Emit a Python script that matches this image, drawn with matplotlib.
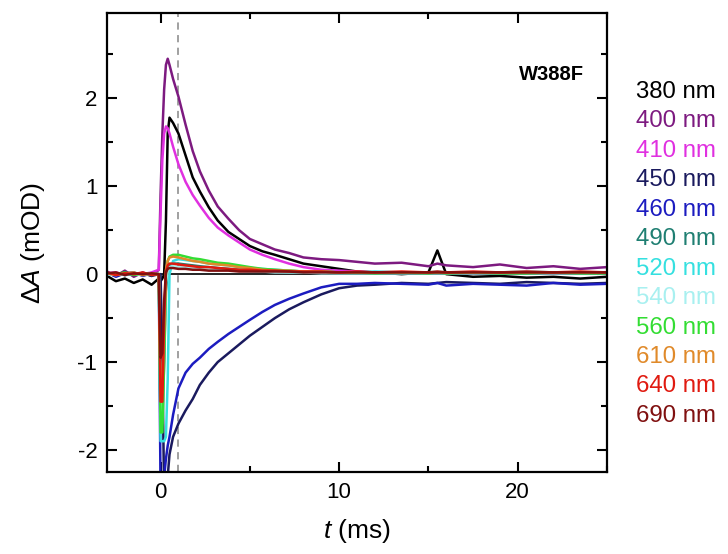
import matplotlib
matplotlib.use('Agg')
import matplotlib.pyplot as plt
from matplotlib.ticker import MultipleLocator

plt.rcParams['font.family'] = ['Liberation Sans', 'DejaVu Sans']
plt.rcParams['mathtext.fontset'] = 'custom'
plt.rcParams['mathtext.rm'] = 'Liberation Sans'
plt.rcParams['mathtext.it'] = 'Liberation Sans:italic'
plt.rcParams['axes.unicode_minus'] = False

# time axis (ms), shared by all traces
t = [-3, -2.5, -2, -1.5, -1, -0.5, -0.1, 0.0, 0.1, 0.2, 0.3, 0.4, 0.5, 0.7, 1.0, 1.4,
     1.8, 2.2, 2.7, 3.2, 3.8, 4.4, 5.0, 5.7, 6.4, 7.2, 8.0, 9.0, 10, 11, 12, 13.5,
     15, 15.5, 16, 17.5, 19, 20.5, 22, 23.5, 25]

wavelengths = ['380 nm', '400 nm', '410 nm', '450 nm', '460 nm', '490 nm',
               '520 nm', '540 nm', '560 nm', '610 nm', '640 nm', '690 nm']
colors = ['#000000', '#7d1a80', '#e030e0', '#1a1a5e', '#1c1cc0', '#1f7f72',
          '#35e0e0', '#a8f0f0', '#33dd33', '#e08a2a', '#e01a10', '#801010']

dA_380 = [-0.02, -0.08, -0.05, -0.10, -0.06, -0.12, -0.05, -0.08, -0.05, 0.00, 0.60, 1.60,
          1.78, 1.72, 1.60, 1.35, 1.10, 0.94, 0.76, 0.61, 0.48, 0.40, 0.32, 0.26, 0.22, 0.17,
          0.12, 0.09, 0.06, 0.03, 0.02, 0.00, 0.02, 0.27, 0.00, -0.03, -0.02, -0.04, -0.03,
          -0.05, -0.03]
dA_400 = [0.03, -0.02, 0.04, -0.03, 0.02, -0.02, 0.05, 0.90, 1.60, 2.10, 2.38, 2.45,
          2.38, 2.22, 2.02, 1.70, 1.40, 1.17, 0.95, 0.77, 0.63, 0.50, 0.40, 0.34, 0.28, 0.24,
          0.19, 0.17, 0.16, 0.14, 0.12, 0.13, 0.09, 0.12, 0.10, 0.08, 0.11, 0.07, 0.09, 0.06,
          0.08]
dA_410 = [0.01, 0.02, -0.01, 0.01, 0.00, 0.02, 0.05, 0.70, 1.30, 1.60, 1.68, 1.66,
          1.60, 1.45, 1.25, 1.05, 0.90, 0.78, 0.64, 0.53, 0.44, 0.36, 0.28, 0.22, 0.17, 0.12,
          0.08, 0.05, 0.04, 0.03, 0.02, 0.02, 0.02, 0.02, 0.02, 0.01, 0.02, 0.02, 0.01, 0.02,
          0.02]
dA_450 = [0.01, -0.02, 0.02, -0.01, 0.01, -0.02, 0.00, 0.00, -1.00, -2.50, -2.50, -2.30,
          -2.05, -1.85, -1.70, -1.55, -1.42, -1.26, -1.12, -1.00, -0.90, -0.80, -0.70, -0.60,
          -0.50, -0.40, -0.32, -0.23, -0.16, -0.13, -0.12, -0.10, -0.11, -0.10, -0.09, -0.10,
          -0.11, -0.09, -0.10, -0.11, -0.10]
dA_460 = [0.02, -0.03, 0.01, 0.02, -0.02, 0.01, 0.00, -2.50, -2.50, -2.30, -2.10, -1.95,
          -1.85, -1.60, -1.30, -1.12, -1.02, -0.95, -0.85, -0.77, -0.68, -0.60, -0.52, -0.43,
          -0.35, -0.28, -0.22, -0.15, -0.11, -0.11, -0.10, -0.11, -0.12, -0.10, -0.13, -0.11,
          -0.12, -0.13, -0.10, -0.12, -0.11]
dA_490 = [0.00, 0.01, -0.01, 0.01, 0.00, -0.01, 0.00, -1.70, -1.70, -1.00, -0.20, 0.05,
          0.10, 0.12, 0.12, 0.11, 0.10, 0.09, 0.08, 0.07, 0.06, 0.05, 0.04, 0.03, 0.03, 0.02,
          0.02, 0.02, 0.01, 0.01, 0.01, 0.01, 0.01, 0.01, 0.01, 0.01, 0.01, 0.01, 0.01, 0.01,
          0.01]
dA_520 = [0.00, 0.01, -0.01, 0.00, 0.01, 0.00, 0.00, -1.90, -1.90, -1.90, -1.85, -1.20,
          0.00, 0.15, 0.17, 0.16, 0.15, 0.14, 0.12, 0.11, 0.10, 0.08, 0.07, 0.06, 0.05, 0.04,
          0.03, 0.03, 0.02, 0.02, 0.03, 0.02, 0.02, 0.03, 0.02, 0.02, 0.02, 0.03, 0.02, 0.02,
          0.02]
dA_540 = [0.00, -0.01, 0.01, 0.00, -0.01, 0.01, 0.00, -1.60, -1.60, -0.80, -0.10, 0.05,
          0.08, 0.09, 0.08, 0.08, 0.07, 0.07, 0.06, 0.05, 0.05, 0.04, 0.03, 0.03, 0.02, 0.02,
          0.02, 0.01, 0.01, 0.01, 0.01, 0.01, 0.01, 0.01, 0.01, 0.01, 0.01, 0.01, 0.01, 0.01,
          0.01]
dA_560 = [0.01, 0.00, 0.02, -0.01, 0.01, 0.00, 0.00, -1.80, -1.80, -1.00, 0.00, 0.15,
          0.20, 0.22, 0.22, 0.20, 0.18, 0.17, 0.15, 0.13, 0.12, 0.10, 0.08, 0.06, 0.05, 0.04,
          0.03, 0.03, 0.02, 0.02, 0.01, 0.02, 0.01, 0.02, 0.01, 0.02, 0.01, 0.01, 0.02, 0.01,
          0.01]
dA_610 = [0.01, -0.01, 0.01, 0.02, -0.01, 0.01, 0.00, -1.30, -1.35, -0.60, 0.05, 0.15,
          0.19, 0.20, 0.19, 0.17, 0.15, 0.14, 0.12, 0.11, 0.10, 0.08, 0.07, 0.05, 0.04, 0.04,
          0.03, 0.03, 0.02, 0.02, 0.02, 0.02, 0.02, 0.02, 0.02, 0.02, 0.02, 0.02, 0.02, 0.02,
          0.02]
dA_640 = [0.02, -0.01, 0.01, 0.00, 0.02, -0.01, 0.00, -1.45, -1.45, -0.50, 0.03, 0.10,
          0.12, 0.12, 0.11, 0.10, 0.09, 0.08, 0.08, 0.07, 0.06, 0.05, 0.05, 0.04, 0.04, 0.03,
          0.03, 0.03, 0.02, 0.03, 0.02, 0.03, 0.02, 0.03, 0.02, 0.03, 0.02, 0.03, 0.02, 0.03,
          0.02]
dA_690 = [0.01, 0.02, -0.01, 0.01, 0.00, 0.01, 0.00, -0.95, -0.90, -0.30, 0.02, 0.06,
          0.07, 0.07, 0.06, 0.06, 0.05, 0.05, 0.04, 0.04, 0.04, 0.03, 0.03, 0.03, 0.03, 0.03,
          0.02, 0.02, 0.02, 0.02, 0.02, 0.02, 0.02, 0.02, 0.02, 0.02, 0.02, 0.02, 0.02, 0.02,
          0.02]

traces = [dA_380, dA_400, dA_410, dA_450, dA_460, dA_490,
          dA_520, dA_540, dA_560, dA_610, dA_640, dA_690]

fig = plt.figure(figsize=(7.28, 5.54), dpi=100)
ax = fig.add_axes([107 / 728, 82 / 554, 500 / 728, 459 / 554])

ax.axhline(0, color='black', lw=1.2, zorder=1)
ax.axvline(1.0, color='#999999', lw=1.3, ls=(0, (4, 3)), zorder=1)
for y, c in zip(traces, colors):
    ax.plot(t, y, color=c, lw=1.8, zorder=2)

ax.set_xlim(-3, 25)
ax.set_ylim(-2.25, 2.97)
ax.xaxis.set_major_locator(MultipleLocator(10))
ax.xaxis.set_minor_locator(MultipleLocator(5))
ax.yaxis.set_major_locator(MultipleLocator(1))
ax.yaxis.set_minor_locator(MultipleLocator(0.5))
ax.tick_params(which='both', direction='in', top=True, right=True, width=1.5,
               labelsize=16, pad=7)
ax.tick_params(which='major', length=7)
ax.tick_params(which='minor', length=4)
for s in ax.spines.values():
    s.set_linewidth(1.6)

ax.set_xlabel('$\\mathit{t}$ (ms)', fontsize=19, labelpad=10)
ax.set_ylabel('Δ$\\mathit{A}$ (mOD)', fontsize=19, labelpad=22)
ax.text(21.9, 2.27, 'W388F', fontsize=14.5, fontweight='bold', ha='center', va='center')

# wavelength key, coloured text to the right of the axes
for i, (lab, c) in enumerate(zip(wavelengths, colors)):
    py = 92 + i * 29.45
    fig.text(636 / 728, 1 - py / 554, lab, color=c, fontsize=17.3, ha='left', va='center')

fig.savefig('out.png', dpi=100)
